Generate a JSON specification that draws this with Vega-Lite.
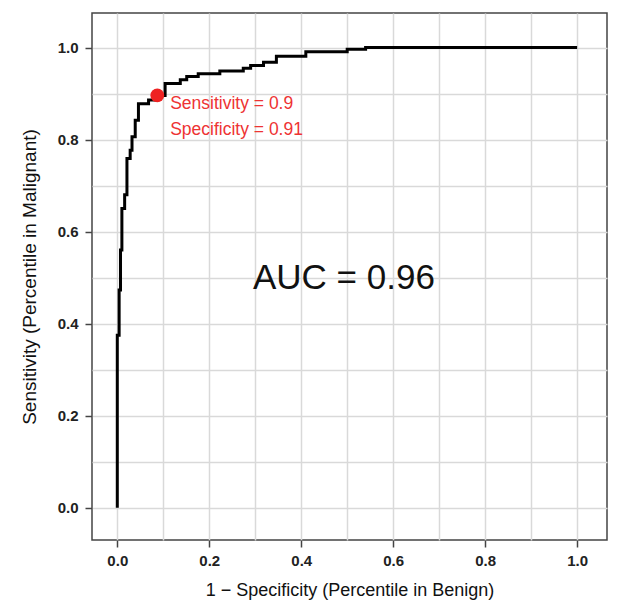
{
  "$schema": "https://vega.github.io/schema/vega-lite/v6.json",
  "width": 515,
  "height": 527,
  "autosize": {"type": "none"},
  "padding": {"left": 92, "top": 13, "right": 10, "bottom": 67},
  "background": "white",
  "config": {
    "view": {"stroke": "#444444", "strokeWidth": 1.5},
    "font": "Liberation Sans"
  },
  "datasets": {
    "roc": [
      {"fpr": 0.0, "tpr": 0.0},
      {"fpr": 0.0, "tpr": 0.375},
      {"fpr": 0.004, "tpr": 0.473},
      {"fpr": 0.007, "tpr": 0.56},
      {"fpr": 0.01, "tpr": 0.65},
      {"fpr": 0.016, "tpr": 0.68},
      {"fpr": 0.021, "tpr": 0.759},
      {"fpr": 0.028, "tpr": 0.777},
      {"fpr": 0.032, "tpr": 0.806},
      {"fpr": 0.039, "tpr": 0.842},
      {"fpr": 0.046, "tpr": 0.878},
      {"fpr": 0.068, "tpr": 0.886},
      {"fpr": 0.085, "tpr": 0.896},
      {"fpr": 0.104, "tpr": 0.922},
      {"fpr": 0.137, "tpr": 0.93},
      {"fpr": 0.151, "tpr": 0.937},
      {"fpr": 0.176, "tpr": 0.943},
      {"fpr": 0.223, "tpr": 0.949},
      {"fpr": 0.274, "tpr": 0.955},
      {"fpr": 0.29, "tpr": 0.961},
      {"fpr": 0.318, "tpr": 0.968},
      {"fpr": 0.346, "tpr": 0.981},
      {"fpr": 0.41, "tpr": 0.991},
      {"fpr": 0.5, "tpr": 0.996},
      {"fpr": 0.54, "tpr": 1.0},
      {"fpr": 1.0, "tpr": 1.0}
    ],
    "cut": [{"fpr": 0.087, "tpr": 0.896}],
    "notes": [
      {"fpr": 0.115, "tpr": 0.877, "label": "Sensitivity = 0.9"},
      {"fpr": 0.115, "tpr": 0.82, "label": "Specificity = 0.91"}
    ],
    "auc": [{"fpr": 0.295, "tpr": 0.5, "label": "AUC = 0.96"}]
  },
  "encoding": {
    "x": {
      "field": "fpr",
      "type": "quantitative",
      "scale": {"domain": [-0.055, 1.065], "nice": false, "zero": false},
      "axis": {
        "title": "1 − Specificity (Percentile in Benign)",
        "values": [0, 0.1, 0.2, 0.3, 0.4, 0.5, 0.6, 0.7, 0.8, 0.9, 1.0],
        "labelExpr": "round(datum.value*10) % 2 === 0 ? format(datum.value, '.1f') : ''",
        "labelOverlap": false,
        "labelFlush": false,
        "domain": false,
        "grid": true,
        "gridColor": "#d9d9d9",
        "gridWidth": 1.5,
        "ticks": true,
        "tickSize": 7,
        "tickWidth": 1.5,
        "tickColor": "#444444",
        "tickOpacity": {"condition": {"test": "round(datum.value*10) % 2 === 0", "value": 1}, "value": 0},
        "labelFontSize": 15,
        "labelFontWeight": "bold",
        "labelColor": "#222222",
        "labelPadding": 6,
        "titleFontSize": 18,
        "titleFontWeight": "normal",
        "titleColor": "#111111",
        "titlePadding": 13
      }
    },
    "y": {
      "field": "tpr",
      "type": "quantitative",
      "scale": {"domain": [-0.07, 1.075], "nice": false, "zero": false},
      "axis": {
        "title": "Sensitivity (Percentile in Malignant)",
        "values": [0, 0.1, 0.2, 0.3, 0.4, 0.5, 0.6, 0.7, 0.8, 0.9, 1.0],
        "labelExpr": "round(datum.value*10) % 2 === 0 ? format(datum.value, '.1f') : ''",
        "labelOverlap": false,
        "labelFlush": false,
        "domain": false,
        "grid": true,
        "gridColor": "#d9d9d9",
        "gridWidth": 1.5,
        "ticks": true,
        "tickSize": 7,
        "tickWidth": 1.5,
        "tickColor": "#444444",
        "tickOpacity": {"condition": {"test": "round(datum.value*10) % 2 === 0", "value": 1}, "value": 0},
        "labelFontSize": 15,
        "labelFontWeight": "bold",
        "labelColor": "#222222",
        "labelPadding": 7,
        "titleFontSize": 19,
        "titleFontWeight": "normal",
        "titleColor": "#111111",
        "titlePadding": 18
      }
    }
  },
  "layer": [
    {
      "data": {"name": "roc"},
      "mark": {"type": "line", "color": "black", "strokeWidth": 3, "interpolate": "step-after"}
    },
    {
      "data": {"name": "cut"},
      "mark": {"type": "point", "filled": true, "color": "#ee2222", "size": 190, "opacity": 1}
    },
    {
      "data": {"name": "notes"},
      "mark": {"type": "text", "align": "left", "baseline": "middle", "fontSize": 17.5, "color": "#ee3333"},
      "encoding": {"text": {"field": "label"}}
    },
    {
      "data": {"name": "auc"},
      "mark": {"type": "text", "align": "left", "baseline": "middle", "fontSize": 35, "color": "#111111"},
      "encoding": {"text": {"field": "label"}}
    }
  ]
}
